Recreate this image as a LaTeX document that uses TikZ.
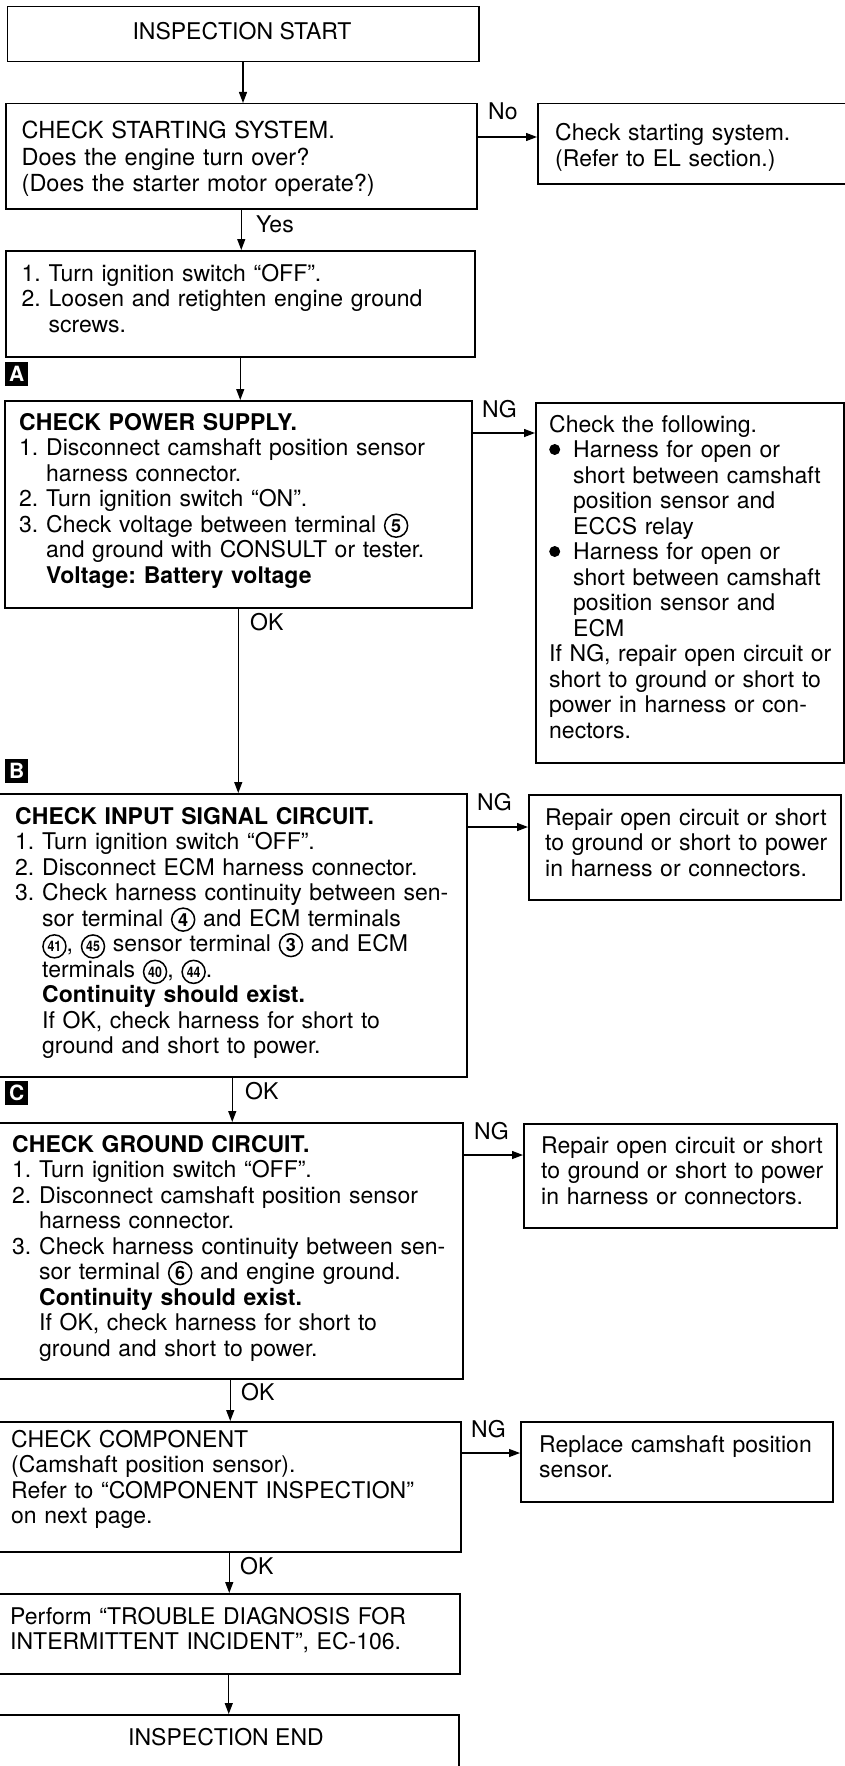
\documentclass[tikz,border=0pt]{standalone}
\usepackage{fontspec}
\usepackage{graphicx}
\setmainfont{TeX Gyre Heros}
\usetikzlibrary{arrows.meta,calc}
\newcommand{\cnum}[1]{\tikz[baseline=(cn.base)]\node[circle,draw,line width=1.5pt,inner sep=0pt,minimum size=23pt,font=\bfseries\fontsize{18}{18}\selectfont](cn){#1};}
\newcommand{\cnumm}[1]{\tikz[baseline=(cn.base)]\node[circle,draw,line width=1.5pt,inner sep=0pt,minimum size=23pt,font=\bfseries\fontsize{14.5}{14.5}\selectfont](cn){\scalebox{0.85}[1]{#1}};}
\newcommand{\bul}{\makebox[24pt][l]{\raisebox{2.5pt}{\tikz\fill (0,0) circle (5.5pt);}}}
\newcommand{\nb}[1]{\makebox[27pt][l]{#1}}
\newcommand{\ind}{\hspace*{27pt}}
\newcommand{\bind}{\hspace*{24pt}}
\frenchspacing
\begin{document}
\begin{tikzpicture}[x=1pt,y=-1pt]
\tikzset{
  box/.style={draw,line width=1.5pt,rectangle,inner sep=0pt,anchor=north west},
  txt/.style={anchor=base west,inner sep=0pt,align=left,text width=470pt,font=\fontsize{23}{25.5}\selectfont},
  lbl/.style={anchor=base west,inner sep=0pt,font=\fontsize{23}{25.5}\selectfont},
  arr/.style={line width=1.3pt,-{Triangle[length=11pt,width=8pt]}},
  tag/.style={fill=black,text=white,inner sep=0pt,minimum width=23pt,minimum height=24pt,anchor=north west,font=\bfseries\fontsize{21}{21}\selectfont}
}
\useasboundingbox (0,0) rectangle (845,1766);
\clip (0,0) rectangle (845,1766);
\fill[white] (0,0) rectangle (845,1766);

% boxes
\node[box,minimum width=471.5pt,minimum height=55pt] (start) at (6.5,6) {};
\node[lbl,anchor=base] (starttx) at (242,40) {INSPECTION START};

\node[box,minimum width=471pt,minimum height=105pt] (check) at (5,103) {};
\node[txt,font=\fontsize{23.5}{26.5}\selectfont] (checktx) at (21.5,139) {CHECK STARTING SYSTEM.\\Does the engine turn over?\\(Does the starter motor operate?)};

\node[box,minimum width=320pt,minimum height=80pt] (nochk) at (537,103) {};
\node[txt] (nochktx) at (555,141) {Check starting system.\\(Refer to EL section.)};

\node[box,minimum width=469pt,minimum height=106pt] (prep) at (5,250) {};
\node[txt] (preptx) at (21.5,281) {\nb{1.}Turn ignition switch “OFF”.\\\nb{2.}Loosen and retighten engine ground\\\ind screws.};

\node[tag] (tagA) at (5,362) {A};

\node[box,minimum width=467pt,minimum height=207pt] (power) at (4,400) {};
\node[txt] (powertx) at (19,430) {\textbf{CHECK POWER SUPPLY.}\\\nb{1.}Disconnect camshaft position sensor\\\ind harness connector.\\\nb{2.}Turn ignition switch “ON”.\\\nb{3.}Check voltage between terminal \cnum{5}\\\ind and ground with CONSULT or tester.\\\ind\textbf{Voltage: Battery voltage}};

\node[box,minimum width=308pt,minimum height=360pt] (powng) at (535,402) {};
\node[txt] (powngtx) at (549,432) {Check the following.\\\bul Harness for open or\\\bind short between camshaft\\\bind position sensor and\\\bind ECCS relay\\\bul Harness for open or\\\bind short between camshaft\\\bind position sensor and\\\bind ECM\\If NG, repair open circuit or\\short to ground or short to\\power in harness or con-\\nectors.};

\node[tag] (tagB) at (5,759) {B};

\node[box,minimum width=469pt,minimum height=283pt] (input) at (-3,793) {};
\node[txt] (inputtx) at (15,824) {\textbf{CHECK INPUT SIGNAL CIRCUIT.}\\\nb{1.}Turn ignition switch “OFF”.\\\nb{2.}Disconnect ECM harness connector.\\\nb{3.}Check harness continuity between sen-\\\ind sor terminal \cnum{4} and ECM terminals\\\ind\cnumm{41}, \cnumm{45} sensor terminal \cnum{3} and ECM\\\ind terminals \cnumm{40}, \cnumm{44}.\\\ind\textbf{Continuity should exist.}\\\ind If OK, check harness for short to\\\ind ground and short to power.};

\node[box,minimum width=312pt,minimum height=105pt] (inpng) at (528,794) {};
\node[txt] (inpngtx) at (545,825) {Repair open circuit or short\\to ground or short to power\\in harness or connectors.};

\node[tag] (tagC) at (5,1081) {C};

\node[box,minimum width=465pt,minimum height=256pt] (ground) at (-3,1122) {};
\node[txt] (groundtx) at (12,1152) {\textbf{CHECK GROUND CIRCUIT.}\\\nb{1.}Turn ignition switch “OFF”.\\\nb{2.}Disconnect camshaft position sensor\\\ind harness connector.\\\nb{3.}Check harness continuity between sen-\\\ind sor terminal \cnum{6} and engine ground.\\\ind\textbf{Continuity should exist.}\\\ind If OK, check harness for short to\\\ind ground and short to power.};

\node[box,minimum width=313pt,minimum height=104pt] (gndng) at (523,1123) {};
\node[txt] (gndngtx) at (541,1153) {Repair open circuit or short\\to ground or short to power\\in harness or connectors.};

\node[box,minimum width=463pt,minimum height=130pt] (comp) at (-3,1421) {};
\node[txt] (comptx) at (11,1447) {CHECK COMPONENT\\(Camshaft position sensor).\\Refer to “COMPONENT INSPECTION”\\on next page.};

\node[box,minimum width=312pt,minimum height=80pt] (compng) at (520,1421) {};
\node[txt] (compngtx) at (539,1452) {Replace camshaft position\\sensor.};

\node[box,minimum width=462pt,minimum height=80pt] (perform) at (-3,1593) {};
\node[txt] (performtx) at (10,1624) {Perform “TROUBLE DIAGNOSIS FOR\\INTERMITTENT INCIDENT”, EC-106.};

\node[box,minimum width=461pt,minimum height=80pt] (finish) at (-3,1714) {};
\node[lbl,anchor=base] (finishtx) at (226,1745) {INSPECTION END};

% vertical arrows
\draw[arr] (start.south) -- (start.south |- check.north);
\draw[arr] (check.south) -- (check.south |- prep.north);
\draw[arr] (prep.south) -- (prep.south |- power.north);
\draw[arr] (power.south) -- (power.south |- input.north);
\draw[arr] (input.south) -- (input.south |- ground.north);
\draw[arr] (ground.south) -- (ground.south |- comp.north);
\draw[arr] (comp.south) -- (comp.south |- perform.north);
\draw[arr] (perform.south) -- (perform.south |- finish.north);

% horizontal arrows
\draw[arr] (check.east |- 0,137) -- (nochk.west |- 0,137);
\draw[arr] (power.east |- 0,433) -- (powng.west |- 0,433);
\draw[arr] (input.east |- 0,827) -- (inpng.west |- 0,827);
\draw[arr] (ground.east |- 0,1155) -- (gndng.west |- 0,1155);
\draw[arr] (comp.east |- 0,1453) -- (compng.west |- 0,1453);

% labels
\node[lbl] (lno) at (488,120) {No};
\node[lbl] (lyes) at (256,232) {Yes};
\node[lbl] (lng1) at (482,417) {NG};
\node[lbl] (lok1) at (250,630) {OK};
\node[lbl] (lng2) at (477,810) {NG};
\node[lbl] (lok2) at (245,1099) {OK};
\node[lbl] (lng3) at (474,1139) {NG};
\node[lbl] (lok3) at (241,1400) {OK};
\node[lbl] (lng4) at (471,1437) {NG};
\node[lbl] (lok4) at (240,1574) {OK};
\end{tikzpicture}
\end{document}
